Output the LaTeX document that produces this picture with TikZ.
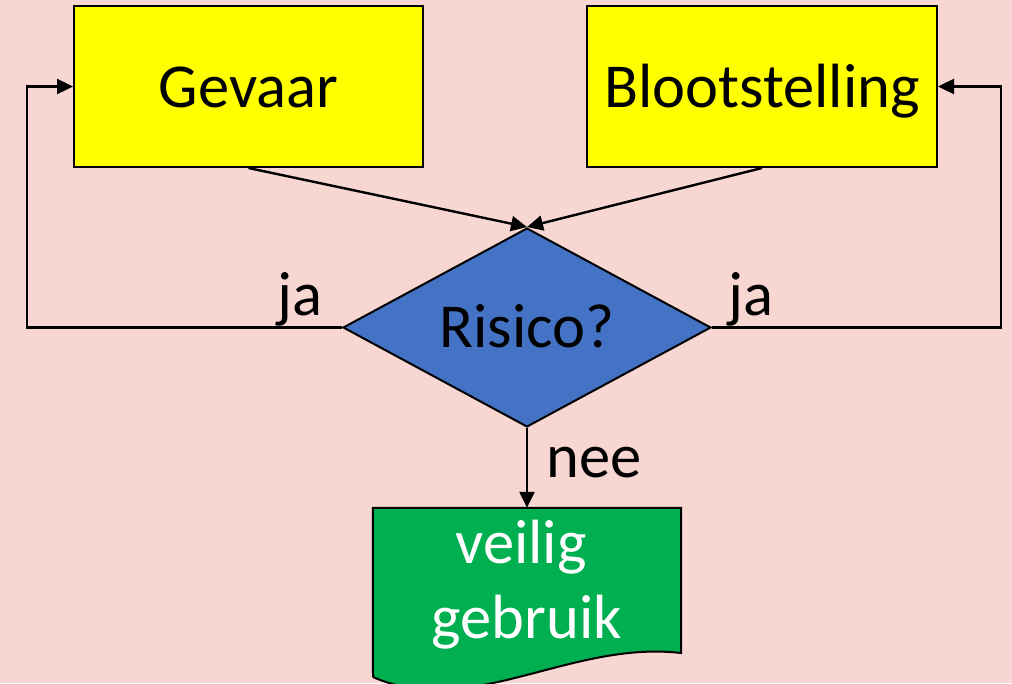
\documentclass[tikz,border=0pt]{standalone}
\usepackage{fontspec}
\setmainfont{Carlito}
\usetikzlibrary{arrows.meta,shapes.geometric}
\definecolor{bgpink}{RGB}{248,214,209}
\definecolor{boxyellow}{RGB}{255,255,0}
\definecolor{diablue}{RGB}{68,114,196}
\definecolor{docgreen}{RGB}{0,176,80}
\tikzset{
  bigfont/.style={font=\fontsize{62.5}{74}\selectfont},
  ybox/.style={draw=black, line width=2pt, fill=boxyellow, rectangle,
    minimum width=349pt, minimum height=161pt, inner sep=0pt,
    bigfont, text height=41pt, text depth=0pt},
  riskdia/.style={draw=black, line width=2pt, fill=diablue, diamond, aspect=1.85,
    minimum width=368pt, minimum height=199pt, inner sep=0pt,
    bigfont, text height=40pt, text depth=0pt},
  docbox/.style={rectangle, minimum width=308pt, minimum height=174pt, inner sep=0pt},
  lbl/.style={bigfont, anchor=base, inner sep=0pt},
  conn/.style={line width=2.4pt, -{Triangle[length=16pt,width=15pt]}}
}
\begin{document}
\begin{tikzpicture}[x=1pt,y=-1pt]
\useasboundingbox (0,0) rectangle (1012,683);
\fill[bgpink] (0,0) rectangle (1012,683);
\node[ybox] (gev) at (248.5,86.5) {Gevaar};
\node[ybox, minimum width=350pt] (bloot) at (762,86.5) {Blootstelling};
\node[riskdia] (dia) at (527,327.5) {Risico?};
\node[docbox] (doc) at (527,595) {};
\fill[docgreen] (doc.north west) -- (doc.north east) -- (681,653)
  .. controls (570,640) and (470,720) .. (373,677) -- cycle;
\draw[line width=2pt] (373,677) -- (doc.north west) -- (doc.north east) -- (681,653)
  .. controls (570,640) and (470,720) .. (373,677);
\node[lbl, white] (veilig) at (521,563) {veilig};
\node[lbl, white] (gebruik) at (527,638) {gebruik};
\coordinate (lc) at (27,327.5);
\coordinate (rc) at (1001,327.5);
\draw[conn] (gev.south) -- (dia.north);
\draw[conn] (bloot.south) -- (dia.north);
\draw[conn] (dia.west) -- (lc) |- (gev.west);
\draw[conn] (dia.east) -- (rc) |- (bloot.east);
\draw[conn] (dia.south) -- (doc.north);
\node[lbl] (jal) at (300,315) {ja};
\node[lbl] (jar) at (751,315) {ja};
\node[lbl] (nee) at (594,477) {nee};
\end{tikzpicture}
\end{document}
